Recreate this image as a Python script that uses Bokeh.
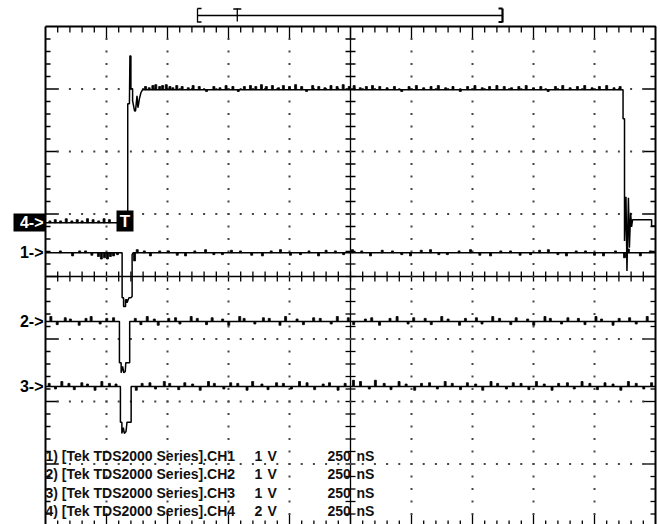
from bokeh.plotting import figure
from bokeh.models import Range1d
from bokeh.embed import file_html
from bokeh.resources import INLINE
from bokeh.core.properties import value

# ---------------- scope settings ----------------
NS_PER_DIV = 250
H_DIVS = 10
V_DIVS = 8
channel_names = ["CH1", "CH2", "CH3", "CH4"]
volts_per_div = [1, 1, 1, 2]
position_div = [0.38, -0.72, -1.76, 0.86]
legend_prefix = ["1) [Tek TDS2000 Series].", "2) [Tek TDS2000 Series].",
                 "3) [Tek TDS2000 Series].", "4) [Tek TDS2000 Series]."]
time_label = "250"
time_unit = "nS"
volt_unit = "V"

# ---------------- traces (time ns from left edge, volts) ----------------
ch1_t = [0, 314, 314, 320, 320, 328, 328, 334, 334, 342, 350, 355, 355, 359, 2500]
ch1_v = [0, 0, -0.72, -0.72, -0.86, -0.86, -0.75, -0.75, -0.80, -0.72, -0.72, -0.70, -0.03, 0, 0]

ch2_t = [0, 303, 303, 310, 310, 316, 321, 327, 329, 345, 345, 2500]
ch2_v = [0, 0, -0.66, -0.66, -0.82, -0.72, -0.82, -0.80, -0.66, -0.66, 0, 0]

ch3_t = [0, 307, 307, 313, 313, 319, 323, 330, 334, 351, 351, 2500]
ch3_v = [0, 0, -0.57, -0.57, -0.75, -0.66, -0.75, -0.72, -0.57, -0.57, 0, 0]

ch4_t = [0, 337, 337, 344, 346, 350, 350, 357, 357, 365, 369, 375, 379, 385, 391, 398,
         2367, 2367, 2373, 2373, 2379, 2383, 2389, 2393, 2398, 2402, 2406, 2484, 2484, 2500]
ch4_v = [0, 0, 3.81, 3.81, 5.34, 5.34, 4.29, 4.29, 3.90, 3.58, 3.58, 4.06, 3.68, 3.97, 4.16, 4.26,
         4.26, 3.33, 3.33, -0.58, 0.83, -1.54, 0.80, -0.80, 0.32, -0.13, 0.10, 0.10, -0.10, -0.10]
ch4_high_level = 4.26

# noise glitches (time ns, excursion V)
ch1_glitches = [(61, 0.03), (111, -0.05), (140, 0.03), (164, 0.03), (190, -0.04), (217, -0.06),
                (229, -0.10), (242, -0.08), (254, -0.10), (266, -0.06), (279, -0.05), (295, -0.03),
                (365, -0.13), (376, 0.05), (405, 0.03), (430, -0.05), (468, 0.03), (504, 0.03),
                (540, -0.04), (574, -0.05), (612, 0.03), (656, 0.05), (690, -0.03), (725, -0.03),
                (762, 0.04), (799, 0.03), (845, -0.04), (889, -0.05), (925, 0.03), (963, 0.05),
                (1004, -0.04), (1045, -0.03), (1080, 0.03), (1119, -0.05), (1150, 0.04), (1188, 0.03),
                (1222, -0.03), (1258, 0.05), (1296, 0.03), (1332, -0.05), (1380, 0.04), (1422, 0.03),
                (1460, -0.03), (1496, -0.05), (1540, 0.04), (1578, 0.05), (1612, -0.03), (1647, -0.03),
                (1695, 0.03), (1742, 0.05), (1780, -0.04), (1824, -0.05), (1866, 0.03), (1906, 0.03),
                (1945, -0.04), (1988, -0.03), (2025, 0.04), (2061, 0.05), (2100, -0.03), (2135, -0.05),
                (2175, 0.03), (2213, 0.03), (2250, -0.04), (2287, -0.05), (2336, 0.03), (2373, -0.08),
                (2389, 0.06), (2438, -0.05), (2479, 0.03)]

ch2_glitches = [(22, 0.08), (48, -0.05), (81, 0.06), (102, 0.04), (138, -0.06), (166, 0.05),
                (187, 0.08), (224, -0.04), (251, 0.05), (279, 0.06), (368, 0.05), (391, -0.05),
                (417, 0.08), (446, 0.04), (462, -0.06), (505, 0.05), (533, 0.06), (551, -0.04),
                (597, 0.08), (622, 0.05), (660, -0.05), (683, 0.06), (726, 0.04), (751, -0.06),
                (796, 0.08), (814, 0.05), (858, -0.04), (893, 0.06), (917, 0.05), (961, -0.06),
                (984, 0.08), (1031, 0.04), (1057, -0.05), (1099, 0.06), (1126, 0.05), (1171, -0.04),
                (1196, 0.08), (1241, 0.06), (1263, -0.05), (1311, 0.04), (1337, 0.06), (1369, -0.06),
                (1412, 0.05), (1441, 0.08), (1486, -0.04), (1509, 0.06), (1556, 0.05), (1581, -0.05),
                (1624, 0.08), (1650, 0.04), (1697, -0.06), (1721, 0.05), (1766, 0.06), (1789, -0.04),
                (1833, 0.08), (1861, 0.05), (1907, -0.05), (1929, 0.06), (1976, 0.04), (2001, -0.06),
                (2047, 0.08), (2069, 0.05), (2115, -0.04), (2141, 0.06), (2184, 0.05), (2211, -0.05),
                (2256, 0.08), (2279, 0.04), (2326, -0.06), (2351, 0.05), (2394, 0.06), (2421, -0.04),
                (2466, 0.08)]

ch3_glitches = [(15, 0.05), (41, -0.04), (67, 0.08), (96, 0.05), (118, -0.05), (149, 0.06),
                (172, 0.04), (203, -0.06), (231, 0.08), (262, 0.05), (289, 0.04), (372, -0.06),
                (396, 0.05), (428, 0.06), (451, -0.04), (487, 0.08), (509, 0.05), (546, -0.05),
                (571, 0.06), (603, 0.04), (634, -0.06), (668, 0.08), (692, 0.05), (731, -0.04),
                (759, 0.06), (788, 0.05), (826, -0.06), (849, 0.08), (887, 0.04), (912, -0.05),
                (947, 0.06), (975, 0.05), (1008, -0.04), (1041, 0.08), (1072, 0.06), (1103, -0.05),
                (1138, 0.04), (1164, 0.06), (1199, -0.06), (1228, 0.05), (1262, 0.10), (1291, 0.08),
                (1327, -0.04), (1352, 0.10), (1388, 0.05), (1416, -0.05), (1449, 0.08), (1478, 0.04),
                (1513, -0.06), (1541, 0.05), (1574, 0.06), (1606, -0.04), (1638, 0.08), (1667, 0.05),
                (1701, -0.05), (1729, 0.06), (1763, 0.04), (1792, -0.06), (1826, 0.08), (1853, 0.05),
                (1889, -0.04), (1917, 0.06), (1949, 0.05), (1981, -0.05), (2012, 0.08), (2044, 0.04),
                (2076, -0.06), (2103, 0.05), (2139, 0.06), (2167, -0.04), (2199, 0.08), (2231, 0.05),
                (2262, -0.05), (2293, 0.06), (2326, 0.04), (2358, -0.06), (2389, 0.08), (2421, 0.05),
                (2452, -0.04), (2484, 0.06)]

ch4_low_glitches = [(18, 0.06), (40, 0.10), (62, 0.06), (85, 0.13), (108, 0.06), (130, 0.10),
                    (150, 0.06), (172, 0.13), (195, 0.10), (218, 0.06), (240, 0.13), (262, 0.10)]

ch4_high_glitches = [(410, 0.10), (425, 0.06), (440, 0.13), (452, 0.16), (468, 0.10), (480, 0.13),
                     (495, 0.16), (510, 0.10), (522, 0.06), (538, 0.13), (560, 0.10), (585, 0.06),
                     (605, 0.13), (630, 0.10), (660, -0.06), (690, 0.10), (715, 0.06), (740, 0.13),
                     (768, 0.10), (790, -0.06), (815, 0.10), (840, 0.13), (862, 0.10), (885, 0.16),
                     (905, 0.10), (930, 0.13), (955, 0.06), (975, 0.13), (1000, 0.10), (1025, 0.16),
                     (1050, 0.10), (1070, -0.06), (1095, 0.13), (1120, 0.10), (1145, 0.06), (1170, 0.13),
                     (1195, 0.10), (1220, 0.16), (1245, 0.10), (1265, 0.13), (1290, 0.06), (1315, 0.10),
                     (1340, 0.13), (1370, 0.10), (1400, 0.06), (1430, 0.10), (1460, -0.06), (1490, 0.10),
                     (1520, 0.13), (1550, 0.06), (1580, 0.10), (1610, 0.13), (1640, 0.06), (1670, 0.10),
                     (1700, -0.06), (1730, 0.10), (1760, 0.13), (1790, 0.06), (1820, 0.10), (1850, 0.13),
                     (1880, 0.10), (1910, 0.06), (1940, 0.10), (1970, 0.13), (2000, 0.06), (2030, 0.10),
                     (2060, -0.06), (2090, 0.10), (2120, 0.13), (2150, 0.06), (2180, 0.10), (2210, 0.13),
                     (2240, 0.06), (2270, 0.10), (2300, 0.13), (2330, 0.06), (2355, 0.10)]

# trigger-position bar (record window start/end, trigger point) in ns
record_start, record_end, trigger_point = 623, 1873, 786

# ---------------- layout helpers ----------------
PX = NS_PER_DIV / 61.0   # ns per screen pixel
PY = 1 / 62.5            # divisions per screen pixel
X_END = NS_PER_DIV * H_DIVS
Y_TOP = V_DIVS / 2


def sx(px):
    return (px - 45) * PX


def sy(py):
    return (276 - py) * PY


p = figure(width=660, height=524, output_backend="svg", toolbar_location=None,
           x_range=Range1d(sx(0), sx(660)), y_range=Range1d(sy(524), sy(0)),
           x_axis_type=None, y_axis_type=None, min_border=0)
p.grid.visible = False
p.outline_line_color = None
p.background_fill_color = "white"
p.border_fill_color = "white"

# ---------------- graticule ----------------
x0, y0, x1, y1 = [], [], [], []
for k in range(1, H_DIVS * 5):
    x = k * NS_PER_DIV / 5
    L = 12 if k % 5 == 0 else 6
    x0 += [x, x, x]; x1 += [x, x, x]
    y0 += [Y_TOP, -Y_TOP, -5 * PY]
    y1 += [Y_TOP - L * PY, -Y_TOP + L * PY, 5 * PY]
for j in range(1, V_DIVS * 5):
    y = -Y_TOP + j * 0.2
    L = 13 if j % 5 == 0 else 5
    y0 += [y, y, y]; y1 += [y, y, y]
    x0 += [0, X_END, X_END / 2 - 5 * PX]
    x1 += [L * PX, X_END - L * PX, X_END / 2 + 5 * PX]
p.segment(x0=x0, y0=y0, x1=x1, y1=y1, line_color="black", line_width=1.3)
p.segment(x0=[0, X_END / 2], y0=[0, -Y_TOP], x1=[X_END, X_END / 2], y1=[0, Y_TOP],
          line_color="black", line_width=1.3)
p.line(x=[0, X_END, X_END, 0, 0], y=[Y_TOP, Y_TOP, -Y_TOP, -Y_TOP, Y_TOP],
       line_color="black", line_width=2)

dx, dy = [], []
for k in range(1, H_DIVS):
    if k == H_DIVS // 2:
        continue
    for j in range(1, V_DIVS * 5):
        dx.append(k * NS_PER_DIV); dy.append(-Y_TOP + j * 0.2)
for m in range(1, V_DIVS):
    if m == V_DIVS // 2:
        continue
    for k in range(1, H_DIVS * 5):
        dx.append(k * NS_PER_DIV / 5); dy.append(-Y_TOP + m)
p.scatter(x=dx, y=dy, marker="square", size=2, fill_color="#444444", line_color=None)

# ---------------- traces ----------------
traces = [(ch1_t, ch1_v), (ch2_t, ch2_v), (ch3_t, ch3_v), (ch4_t, ch4_v)]
for (ts, vs), pos, sc in zip(traces, position_div, volts_per_div):
    p.line(x=ts, y=[pos + v / sc for v in vs], line_color="black", line_width=1.5)


def glitches(gl, pos, sc, base=0.0):
    ts = [g[0] for g in gl]
    p.vbar(x=ts, width=2 * PX, bottom=[pos + base / sc] * len(ts),
           top=[pos + (base + g[1]) / sc for g in gl],
           fill_color="black", line_color="black", line_width=0.8)


glitches(ch1_glitches, position_div[0], volts_per_div[0])
glitches(ch2_glitches, position_div[1], volts_per_div[1])
glitches(ch3_glitches, position_div[2], volts_per_div[2])
glitches(ch4_low_glitches, position_div[3], volts_per_div[3])
glitches(ch4_high_glitches, position_div[3], volts_per_div[3], ch4_high_level)

# ---------------- markers ----------------
FONT = value("Liberation Sans")
for i in range(3):
    p.text(x=[sx(43)], y=[position_div[i]], text=[f"{i + 1}->"], text_font=FONT,
           text_font_size="16px", text_font_style="bold", text_align="right",
           text_baseline="middle", text_color="black")
# channel 4 marker (inverse)
p.quad(left=[sx(13)], right=[sx(45)], bottom=[sy(231)], top=[sy(213)], fill_color="black", line_color=None)
p.text(x=[sx(43)], y=[position_div[3]], text=["4->"], text_font=FONT, text_font_size="16px",
       text_font_style="bold", text_align="right", text_baseline="middle", text_color="white")
# trigger marker
p.quad(left=[sx(116)], right=[sx(133)], bottom=[sy(231)], top=[sy(210)], fill_color="black", line_color=None)
p.text(x=[(sx(116) + sx(133)) / 2], y=[(sy(231) + sy(210)) / 2], text=["T"], text_font=FONT,
       text_font_size="17px", text_font_style="bold", text_align="center", text_baseline="middle",
       text_color="white")

# trigger-position bar on top
bar_y = sy(15)
p.segment(x0=[record_start, record_start, record_start, trigger_point, trigger_point - 4 * PX,
              record_start],
          y0=[bar_y, sy(8), sy(8), sy(8), sy(8.5), sy(21.5)],
          x1=[record_end, record_start, record_start + 4 * PX, trigger_point, trigger_point + 4 * PX,
              record_start + 4 * PX],
          y1=[bar_y, sy(22), sy(8), sy(21), sy(8.5), sy(21.5)],
          line_color="black", line_width=1.3)
p.segment(x0=[record_end, record_end, record_end], y0=[sy(8), sy(8), sy(21.5)],
          x1=[record_end, record_end - 4 * PX, record_end - 4 * PX], y1=[sy(22), sy(8), sy(21.5)],
          line_color="black", line_width=2.2)

# ---------------- waveform legend text ----------------
rows = [455, 473.5, 492, 510.5]
for i in range(4):
    y = sy(rows[i])
    kw = dict(text_font=FONT, text_font_size="14px", text_font_style="bold",
              text_baseline="middle", text_color="#111111")
    p.text(x=[sx(45)], y=[y], text=[legend_prefix[i] + channel_names[i]], **kw)
    p.text(x=[sx(254)], y=[y], text=[str(volts_per_div[i])], **kw)
    p.text(x=[sx(267)], y=[y], text=[volt_unit], **kw)
    p.text(x=[sx(327)], y=[y], text=[time_label], **kw)
    p.text(x=[sx(356)], y=[y], text=[time_unit], **kw)

open("out.html", "w").write(file_html(p, INLINE))
